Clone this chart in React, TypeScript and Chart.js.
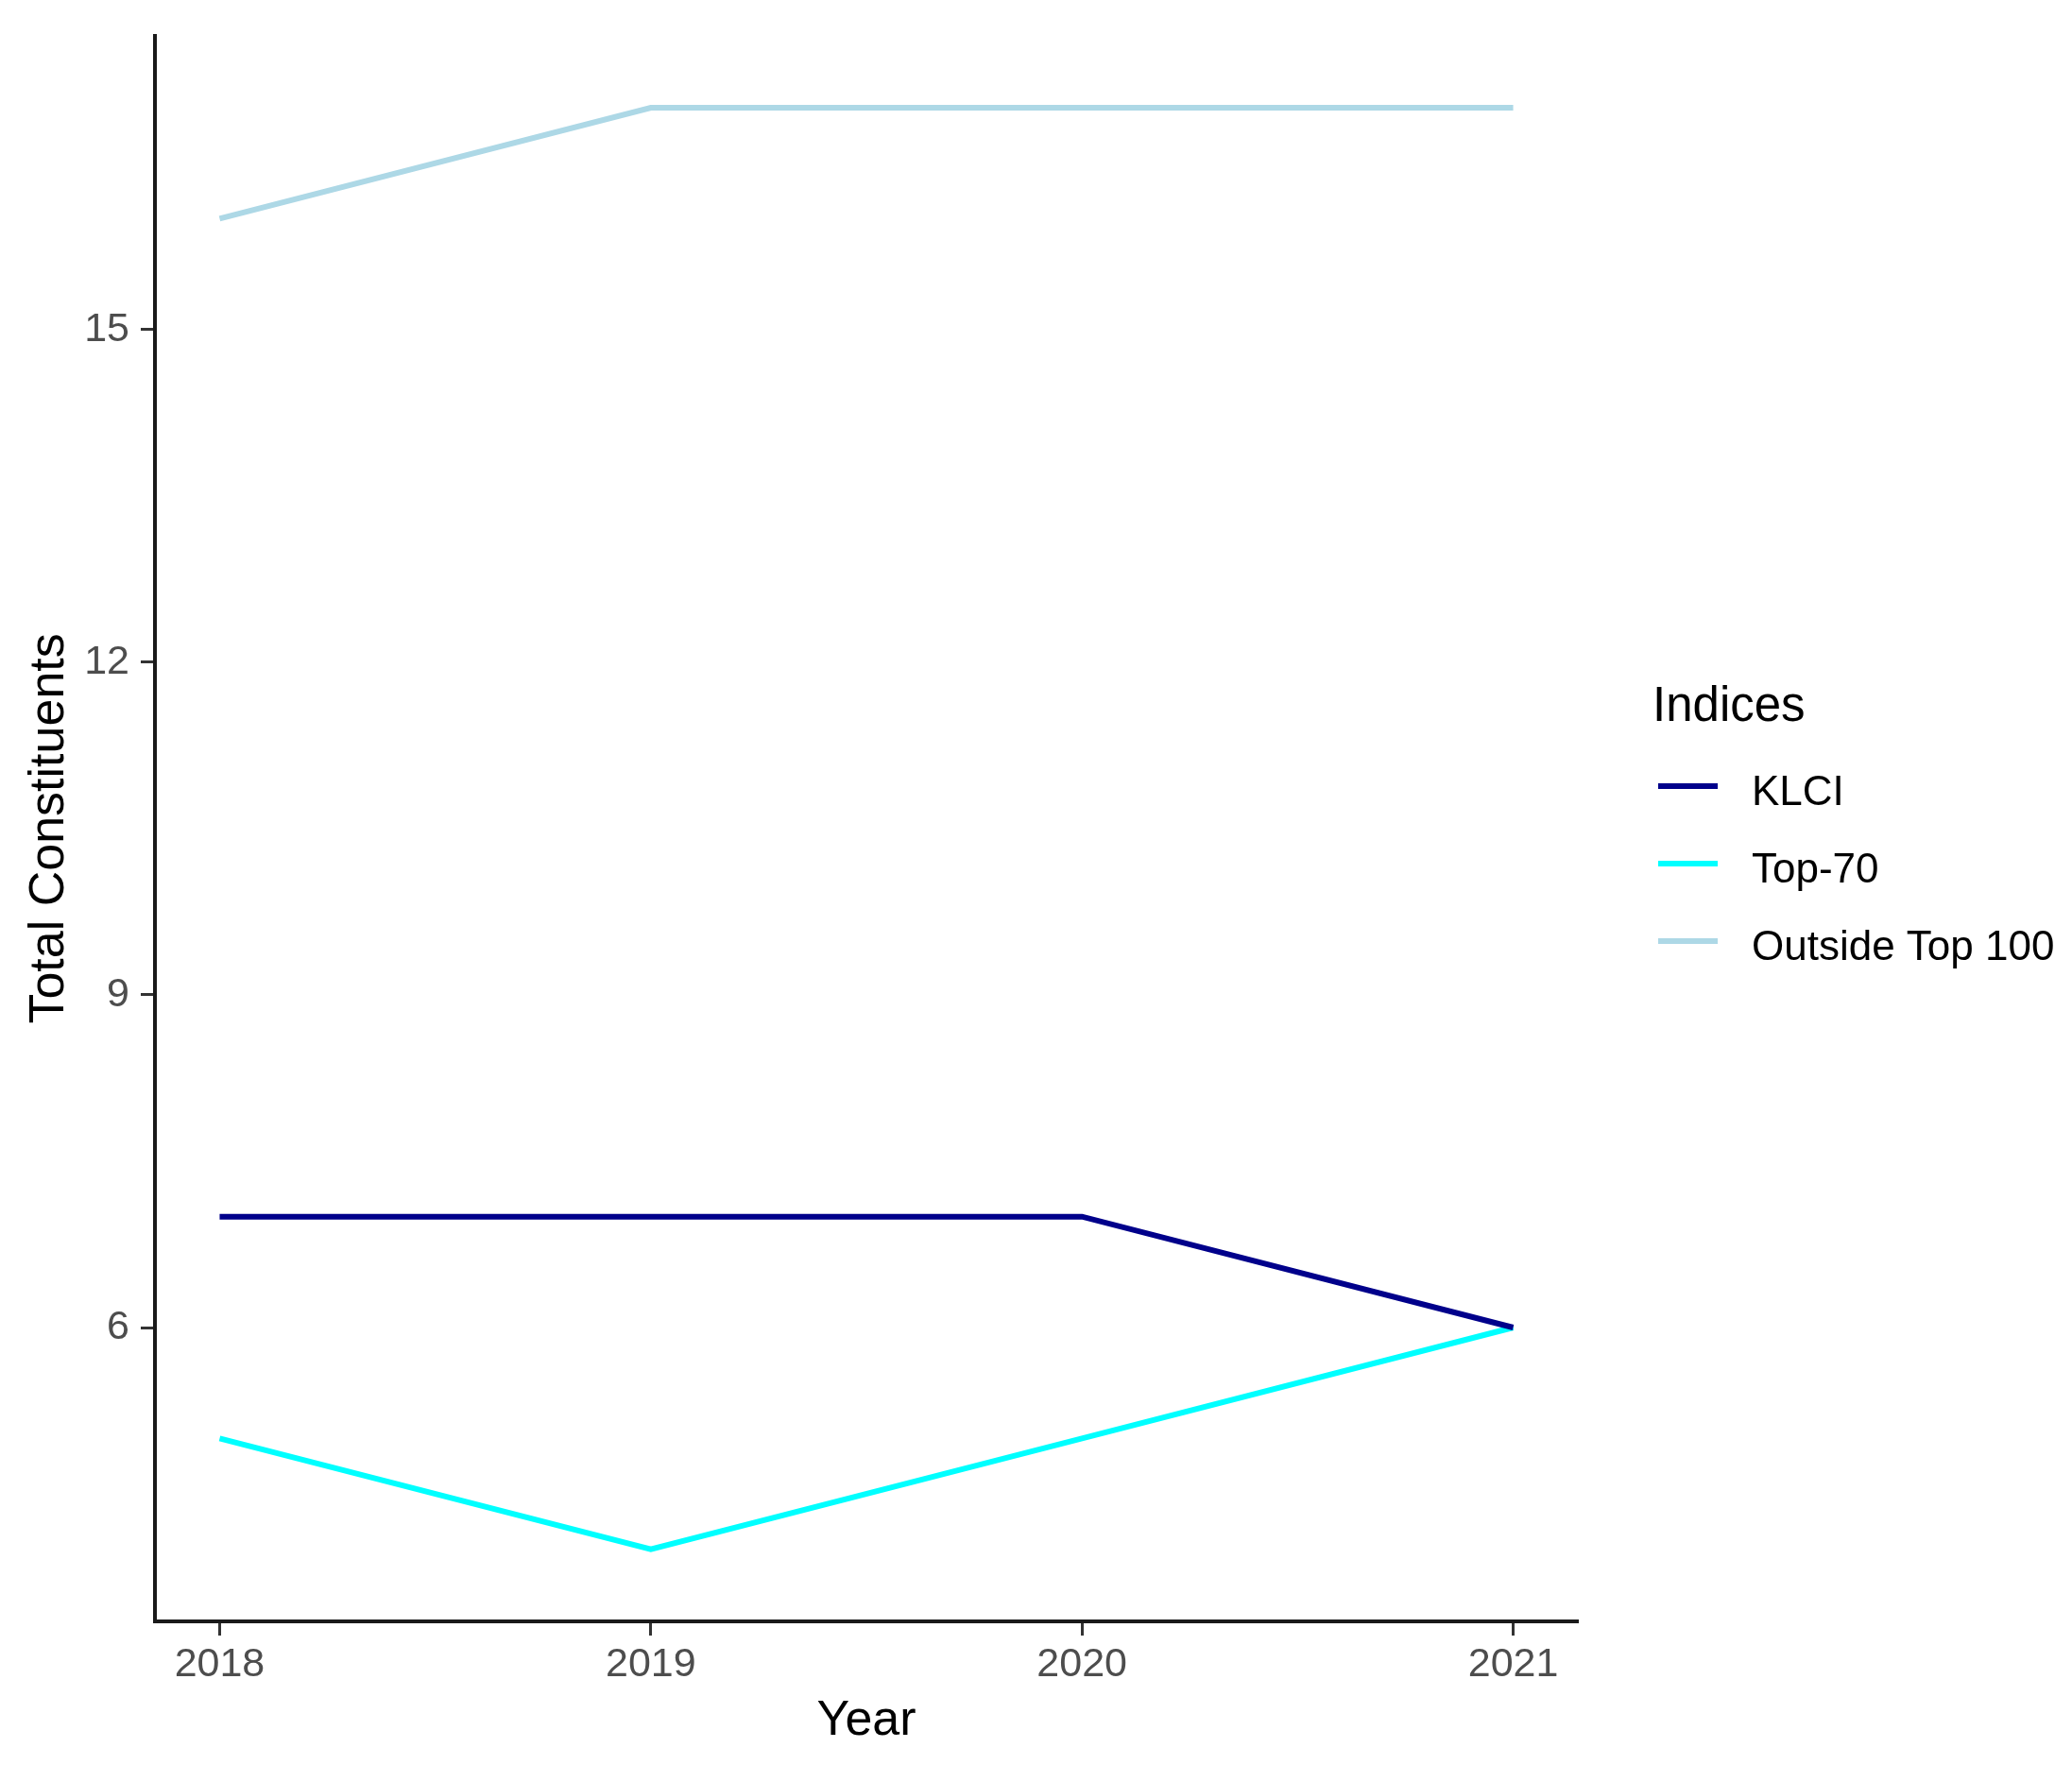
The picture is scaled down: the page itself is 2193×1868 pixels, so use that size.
import React, { useEffect, useRef } from "react";
import { Chart, registerables } from "chart.js";

Chart.register(...registerables);

const years = [2018, 2019, 2020, 2021];
const klci = [7, 7, 7, 6];
const top70 = [5, 4, 5, 6];
const outsideTop100 = [16, 17, 17, 17];
const yTicks = [6, 9, 12, 15];
const seriesNames = ["KLCI", "Top-70", "Outside Top 100"];
const seriesColors = ["#00008B", "#00FFFF", "#ADD8E6"];

const FONT = "'Liberation Sans', Arial, sans-serif";

const overlayPlugin = {
  id: "overlay",
  afterDraw(chart: any) {
    const ctx = chart.ctx;
    const area = chart.chartArea;
    ctx.save();
    // axis titles
    ctx.fillStyle = "#000000";
    ctx.font = `52px ${FONT}`;
    ctx.textAlign = "center";
    ctx.textBaseline = "middle";
    ctx.fillText("Year", (area.left + area.right) / 2, 1822);
    ctx.save();
    ctx.translate(53, (area.top + area.bottom) / 2);
    ctx.rotate(-Math.PI / 2);
    ctx.fillText("Total Constituents", 0, 0);
    ctx.restore();

    // legend
    ctx.textAlign = "left";
    ctx.textBaseline = "alphabetic";
    ctx.font = `51px ${FONT}`;
    ctx.fillText("Indices", 1749, 763);
    ctx.font = `44px ${FONT}`;
    seriesNames.forEach((name, i) => {
      const y = 832 + i * 82;
      ctx.strokeStyle = seriesColors[i];
      ctx.lineWidth = 6;
      ctx.beginPath();
      ctx.moveTo(1755, y);
      ctx.lineTo(1818, y);
      ctx.stroke();
      ctx.fillStyle = "#000000";
      ctx.fillText(name, 1854, y + 20);
    });
    ctx.restore();
  },
};

export default function App() {
  const ref = useRef<HTMLCanvasElement | null>(null);
  useEffect(() => {
    if (!ref.current) return;
    const mk = (vals: number[]) => years.map((x, i) => ({ x, y: vals[i] }));
    const chart = new Chart(ref.current, {
      type: "line",
      data: {
        datasets: [
          { label: seriesNames[0], data: mk(klci), borderColor: seriesColors[0] },
          { label: seriesNames[1], data: mk(top70), borderColor: seriesColors[1] },
          { label: seriesNames[2], data: mk(outsideTop100), borderColor: seriesColors[2] },
        ].map((d) => ({ ...d, borderWidth: 6, pointRadius: 0, tension: 0, fill: false })),
      },
      options: {
        animation: false,
        responsive: false,
        devicePixelRatio: 1,
        layout: { padding: { left: 0, top: 37, right: 523, bottom: 0 } },
        plugins: { legend: { display: false }, tooltip: { enabled: false } },
        scales: {
          x: {
            type: "linear",
            min: 2017.85,
            max: 2021.15,
            afterBuildTicks: (s: any) => {
              s.ticks = years.map((v) => ({ value: v }));
            },
            afterFit: (s: any) => {
              s.height = 152;
            },
            grid: {
              display: true,
              drawOnChartArea: false,
              drawTicks: true,
              tickLength: 15,
              tickColor: "#333333",
              tickWidth: 3,
            },
            border: { display: true, color: "#1a1a1a", width: 4 },
            ticks: {
              color: "#4D4D4D",
              font: { family: FONT, size: 43 },
              padding: 5,
              maxRotation: 0,
              callback: (v: any) => String(v),
            },
          },
          y: {
            type: "linear",
            min: 3.35,
            max: 17.65,
            afterBuildTicks: (s: any) => {
              s.ticks = yTicks.map((v) => ({ value: v }));
            },
            afterFit: (s: any) => {
              s.width = 164;
            },
            grid: {
              display: true,
              drawOnChartArea: false,
              drawTicks: true,
              tickLength: 15,
              tickColor: "#333333",
              tickWidth: 3,
            },
            border: { display: true, color: "#1a1a1a", width: 4 },
            ticks: {
              color: "#4D4D4D",
              font: { family: FONT, size: 43 },
              padding: 12,
              callback: (v: any) => String(v),
            },
          },
        },
      },
      plugins: [overlayPlugin],
    });
    return () => chart.destroy();
  }, []);
  return (
    <div style={{ position: "absolute", left: 0, top: 0, width: 2193, height: 1868, background: "#fff" }}>
      <canvas ref={ref} width={2193} height={1868} style={{ width: 2193, height: 1868, display: "block" }} />
    </div>
  );
}
